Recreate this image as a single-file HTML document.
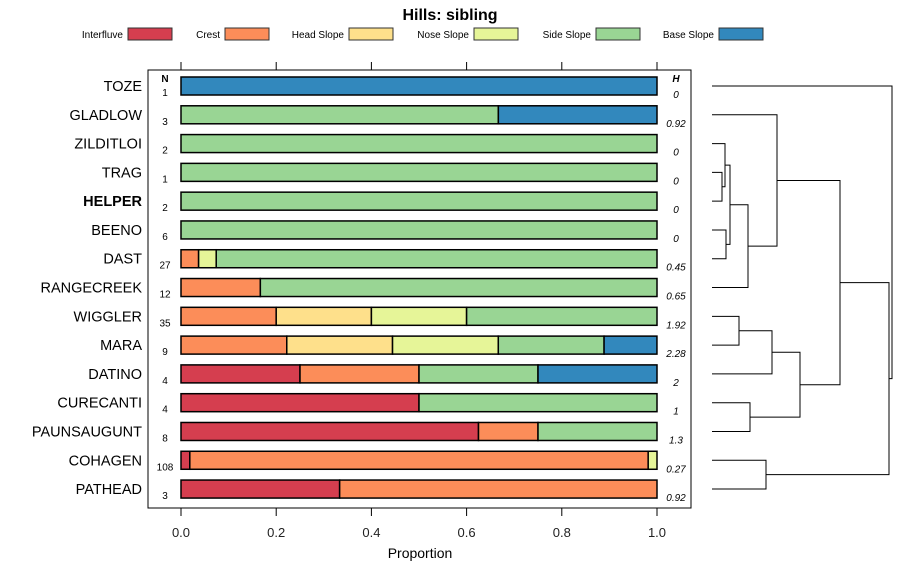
<!DOCTYPE html>
<html><head><meta charset="utf-8"><style>
body{margin:0;background:#fff;}
svg{display:block;font-family:"Liberation Sans",sans-serif;}
</style></head><body>
<svg id="chart" width="900" height="580" viewBox="0 0 900 580">
<text x="450" y="20" text-anchor="middle" font-size="16" font-weight="bold">Hills: sibling</text>
<g id="legend"></g>
<rect x="148" y="70" width="543" height="438" fill="none" stroke="#000" stroke-width="1"/>
<g id="bars"></g>
<g id="axes"></g>
<g id="dendro"></g>
<text x="420" y="558" text-anchor="middle" font-size="14">Proportion</text>
<text x="165" y="82" text-anchor="middle" font-size="10" font-weight="bold">N</text>
<text x="676" y="82" text-anchor="middle" font-size="10" font-weight="bold" font-style="italic">H</text>
</svg>
<script>
const classes = ["Interfluve","Crest","Head Slope","Nose Slope","Side Slope","Base Slope"];
const colors = ["#d53e4f","#fc8d59","#fee08b","#e6f598","#99d594","#3288bd"];
const sites = ["TOZE","GLADLOW","ZILDITLOI","TRAG","HELPER","BEENO","DAST","RANGECREEK","WIGGLER","MARA","DATINO","CURECANTI","PAUNSAUGUNT","COHAGEN","PATHEAD"];
const nValues = [1,3,2,1,2,6,27,12,35,9,4,4,8,108,3];
const hValues = ["0","0.92","0","0","0","0","0.45","0.65","1.92","2.28","2","1","1.3","0.27","0.92"];
const interfluve = [0,0,0,0,0,0,0,0,0,0,0.25,0.5,0.625,0.0185,0.3333];
const crest = [0,0,0,0,0,0,0.037,0.1667,0.2,0.2222,0.25,0,0.125,0.963,0.6667];
const headSlope = [0,0,0,0,0,0,0,0,0.2,0.2222,0,0,0,0,0];
const noseSlope = [0,0,0,0,0,0,0.037,0,0.2,0.2222,0,0,0,0.0185,0];
const sideSlope = [0,0.6667,1,1,1,1,0.926,0.8333,0.4,0.2222,0.25,0.5,0.25,0,0];
const baseSlope = [1,0.3333,0,0,0,0,0,0,0,0.1111,0.25,0,0,0,0];
const xTicks = [0,0.2,0.4,0.6,0.8,1.0];
const xTickLabels = ["0.0","0.2","0.4","0.6","0.8","1.0"];
// dendrogram merges: [left, right, height]; leaves 0..14, clusters 15+
const merges = [[3,4,10],[2,15,13],[5,6,14],[16,17,18],[18,7,36],[1,19,65],[8,9,27],[21,10,60],[11,12,38],[22,23,88],[20,24,128],[13,14,54],[25,26,177],[0,27,180]];
const highlighted = "HELPER";

const NS="http://www.w3.org/2000/svg";
function mk(tag,attrs,parent){const e=document.createElementNS(NS,tag);for(const k in attrs)e.setAttribute(k,attrs[k]);parent.appendChild(e);return e;}
const xS = v => 181 + v*476;
const yS = i => 86 + i*28.79;
const series=[interfluve,crest,headSlope,noseSlope,sideSlope,baseSlope];

const lg=document.getElementById('legend');
const legX=[128,225,349,474,596,719];
classes.forEach((c,i)=>{
  const t=mk('text',{x:legX[i]-5,y:38,'text-anchor':'end','font-size':'10'},lg);t.textContent=c;
  
  
  const r=mk('rect',{x:legX[i],y:28,width:44,height:12,fill:colors[i],stroke:'#333','stroke-width':1},lg);
  
  
});

const bg=document.getElementById('bars');
sites.forEach((s,i)=>{
  const y=yS(i);
  const lab=mk('text',{x:142,y:y+5,'text-anchor':'end','font-size':'14.5','font-weight':s===highlighted?'bold':'normal'},bg);
  lab.textContent=s;
  
  
  const nt=mk('text',{x:165,y:y+10,'text-anchor':'middle','font-size':'10'},bg);nt.textContent=nValues[i];
  
  
  const ht=mk('text',{x:676,y:y+12,'text-anchor':'middle','font-size':'10','font-style':'italic'},bg);ht.textContent=hValues[i];
  
  
  let cum=0;
  series.forEach((arr,k)=>{
    const v=arr[i]; if(v<=0)return;
    const r=mk('rect',{x:xS(cum),y:y-9,width:xS(cum+v)-xS(cum),height:18,fill:colors[k],stroke:'#000','stroke-width':1.5},bg);
    
    
    cum+=v;
  });
});

const ax=document.getElementById('axes');
xTicks.forEach((t,i)=>{
  mk('line',{x1:xS(t),x2:xS(t),y1:508,y2:516,stroke:'#000'},ax);
  mk('line',{x1:xS(t),x2:xS(t),y1:62,y2:70,stroke:'#000'},ax);
  const tl=mk('text',{x:xS(t),y:537,'text-anchor':'middle','font-size':'13',fill:'#222'},ax);tl.textContent=xTickLabels[i];
  
  
});

const dg=document.getElementById('dendro');
const nodeY=sites.map((s,i)=>yS(i)), nodeH=sites.map(()=>0);
const dx=h=>712+h;
merges.forEach(m=>{
  const [a,b,h]=m;
  const p=mk('path',{d:`M${dx(nodeH[a])},${nodeY[a]}H${dx(h)}V${nodeY[b]}H${dx(nodeH[b])}`,fill:'none',stroke:'#000','stroke-width':1},dg);
  
  
  nodeY.push((nodeY[a]+nodeY[b])/2); nodeH.push(h);
});
</script>
</body></html>
